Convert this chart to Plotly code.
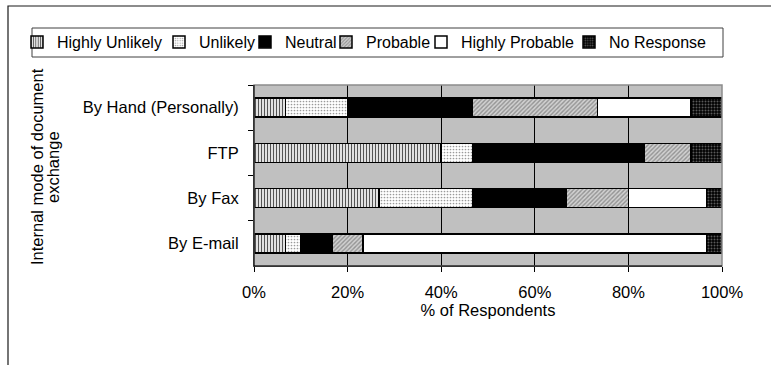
import plotly.graph_objects as go

# Modes of internal document exchange, listed top to bottom
modes = ["By Hand (Personally)", "FTP", "By Fax", "By E-mail"]

# Share of respondents (%) per answer, in the same order as `modes`
highly_unlikely = [6.7, 40.0, 26.7, 6.7]
unlikely = [13.3, 6.7, 20.0, 3.3]
neutral = [26.7, 36.7, 20.0, 6.7]
probable = [26.7, 10.0, 13.3, 6.6]
highly_probable = [20.0, 0.0, 16.7, 73.4]
no_response = [6.6, 6.6, 3.3, 3.3]

x_ticks = [0, 20, 40, 60, 80, 100]
x_tick_labels = ["0%", "20%", "40%", "60%", "80%", "100%"]

FONT = "Arial, Liberation Sans, sans-serif"
FS = 16.5
LEG_FS = 16

# name, values, fill pattern (None = solid), legend entry width
series = [
    ("Highly Unlikely", highly_unlikely,
     dict(shape="|", bgcolor="#f2f2f2", fgcolor="#555555", size=3, solidity=0.4), 97),
    ("Unlikely", unlikely,
     dict(shape=".", bgcolor="#ffffff", fgcolor="#9a9a9a", size=3, solidity=0.25), 41),
    ("Neutral", neutral, None, 36),
    ("Probable", probable,
     dict(shape="/", bgcolor="#d2d2d2", fgcolor="#939393", size=3, solidity=0.45), 50),
    ("Highly Probable", highly_probable, None, 103),
    ("No Response", no_response,
     dict(shape=".", bgcolor="#000000", fgcolor="#5a5a5a", size=3, solidity=0.35), 0),
]
solid = {"Neutral": "#000000", "Highly Probable": "#ffffff"}

fig = go.Figure()
for name, vals, pat, lw in series:
    marker = dict(line=dict(color="#000000", width=1.5))
    if pat is None:
        marker["color"] = solid[name]
    else:
        marker["color"] = pat["bgcolor"]
        marker["pattern"] = dict(shape=pat["shape"], bgcolor=pat["bgcolor"],
                                 fgcolor=pat["fgcolor"], size=pat["size"],
                                 solidity=pat["solidity"], fillmode="replace")
    trace = go.Bar(y=modes, x=vals, name=name, orientation="h", marker=marker)
    if lw:
        trace.legendwidth = lw
    fig.add_trace(trace)

# plot area: 254..722 px horizontally, 85..266 px vertically
L, R, T, B = 254, 49, 85, 99
W, H = 771, 365
pw, ph = W - L - R, H - T - B


def px_x(p):
    return (p - L) / pw


def px_y(p):
    return (H - B - p) / ph


title_font = dict(family=FONT, size=FS)

fig.update_layout(
    width=W, height=H,
    margin=dict(l=L, r=R, t=T, b=B),
    barmode="stack", bargap=0.58,
    plot_bgcolor="#c0c0c0", paper_bgcolor="#ffffff",
    font=dict(family=FONT, size=FS, color="#000000"),
    showlegend=True,
    legend=dict(orientation="h", traceorder="normal",
                x=px_x(17), y=px_y(25), xanchor="left", yanchor="top",
                bgcolor="rgba(0,0,0,0)", borderwidth=0,
                font=dict(family=FONT, size=LEG_FS), itemwidth=30,
                tracegroupgap=0),
    xaxis=dict(range=[0, 100], tickvals=x_ticks, ticktext=x_tick_labels,
               showgrid=True, gridcolor="#000000", gridwidth=1,
               zeroline=False, showline=True, linecolor="#000000",
               linewidth=1, ticks="outside", ticklen=5,
               tickcolor="#000000", ticklabelstandoff=6,
               title=dict(text="% of Respondents", standoff=4,
                          font=title_font)),
    yaxis=dict(type="category", autorange="reversed",
               showgrid=False, zeroline=False, showline=True,
               linecolor="#000000", linewidth=1,
               ticks="outside", ticklen=5, tickcolor="#000000",
               tickson="boundaries", ticklabelstandoff=11),
    shapes=[
        # light frame on top and right of the plot area
        dict(type="rect", xref="paper", yref="paper", x0=0, x1=1, y0=0, y1=1,
             line=dict(color="#8c8c8c", width=1.5), layer="above"),
        # outer chart frame
        dict(type="rect", xref="paper", yref="paper",
             x0=px_x(8), x1=px_x(820), y0=px_y(420), y1=px_y(6),
             line=dict(color="#1a1a1a", width=1.2), layer="below"),
        # legend box
        dict(type="rect", xref="paper", yref="paper",
             x0=px_x(32), x1=px_x(723), y0=px_y(57), y1=px_y(28),
             line=dict(color="#404040", width=1), fillcolor="#ffffff",
             layer="below"),
    ],
    annotations=[
        # vertical axis title, set as two tightly spaced lines
        dict(text="Internal mode of document", textangle=-90,
             xref="paper", yref="paper", x=px_x(37), y=px_y(167),
             xanchor="center", yanchor="middle", showarrow=False,
             font=title_font),
        dict(text="exchange", textangle=-90,
             xref="paper", yref="paper", x=px_x(53), y=px_y(167),
             xanchor="center", yanchor="middle", showarrow=False,
             font=title_font),
    ],
)

# redraw the left/bottom axis lines over the grey frame
fig.add_shape(type="line", xref="paper", yref="paper", x0=0, x1=0, y0=0, y1=1,
              line=dict(color="#000000", width=1), layer="above")
fig.add_shape(type="line", xref="paper", yref="paper", x0=0, x1=1, y0=0, y1=0,
              line=dict(color="#000000", width=1), layer="above")

fig.write_html("out.html")
